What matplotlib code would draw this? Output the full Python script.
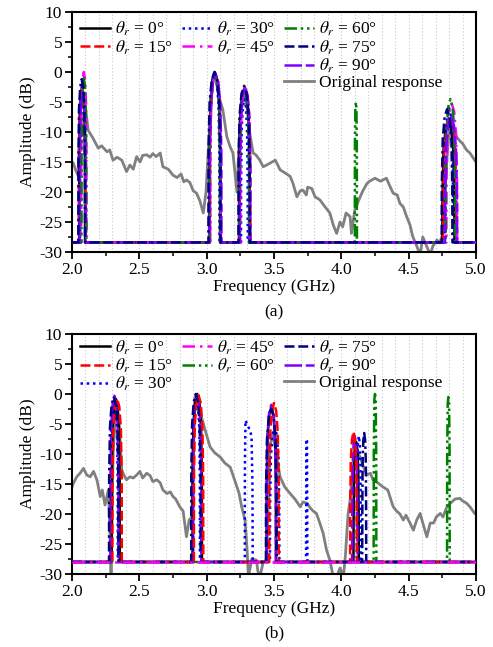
import numpy as np
import matplotlib
matplotlib.use("Agg")
import matplotlib.pyplot as plt
from matplotlib.lines import Line2D

plt.rcParams['font.family'] = ['Liberation Serif', 'DejaVu Serif']
plt.rcParams['mathtext.fontset'] = 'stix'
plt.rcParams['axes.unicode_minus'] = False

FA = -28.4
FB = -28.0

# ---------------- Panel (a) data ----------------
a_orig_f = [2.0, 2.01, 2.03, 2.045, 2.06, 2.075, 2.095, 2.12, 2.155, 2.195, 2.22, 2.26, 2.28, 2.305, 2.335, 2.37,
            2.405, 2.43, 2.455, 2.48, 2.505, 2.525, 2.555, 2.58, 2.60, 2.625, 2.655, 2.675, 2.715, 2.75, 2.78,
            2.81, 2.83, 2.85, 2.875, 2.90, 2.925, 2.95, 2.975, 2.995, 3.015, 3.04, 3.055, 3.07, 3.09, 3.12,
            3.15, 3.175, 3.195, 3.225, 3.24, 3.26, 3.275, 3.30, 3.32, 3.345, 3.365, 3.395, 3.42, 3.445, 3.47,
            3.51, 3.53, 3.545, 3.58, 3.62, 3.64, 3.67, 3.695, 3.715, 3.74, 3.75, 3.78, 3.805, 3.84, 3.88,
            3.915, 3.94, 3.965, 3.99, 4.01, 4.035, 4.065, 4.075, 4.10, 4.14, 4.16, 4.19, 4.21, 4.25, 4.29,
            4.335, 4.36, 4.385, 4.415, 4.435, 4.46, 4.485, 4.51, 4.53, 4.56, 4.585, 4.605, 4.635, 4.66, 4.68,
            4.71, 4.73, 4.755, 4.775, 4.79, 4.81, 4.83, 4.855, 4.88, 4.90, 4.93, 4.955, 4.99, 5.0]
a_orig_a = [-15.0, -15.2, -16.5, -17.2, -8.0, -3.0, -5.0, -9.7, -11.0, -12.7, -12.3, -13.3, -13.0, -14.7, -14.2, -14.7,
            -16.6, -15.5, -16.2, -14.1, -15.0, -13.9, -13.8, -14.2, -13.6, -14.1, -13.5, -15.8, -16.2, -17.2, -17.6,
            -17.0, -18.3, -18.0, -18.4, -19.8, -20.2, -21.5, -23.5, -20.0, -12.0, -3.0, -0.3, -1.5, -4.0, -6.3,
            -10.8, -12.5, -13.5, -20.0, -12.0, -4.0, -3.0, -6.0, -10.2, -13.5, -13.8, -14.7, -15.8, -15.5, -15.2,
            -14.7, -15.6, -16.3, -16.8, -17.4, -18.5, -20.8, -19.8, -19.7, -20.5, -19.2, -19.4, -20.8, -21.3, -22.5,
            -23.5, -25.5, -26.9, -25.0, -25.8, -23.5, -24.1, -26.9, -23.0, -20.8, -19.8, -18.6, -18.2, -17.7, -18.2,
            -17.7, -19.0, -20.2, -20.5, -21.9, -22.5, -24.1, -25.5, -27.4, -29.0, -30.5, -27.5, -29.1, -30.5, -29.0,
            -28.0, -28.5, -26.9, -18.0, -12.5, -8.5, -9.5, -10.8, -11.5, -11.9, -13.0, -13.5, -14.7, -15.0]

a0_f = [2.0, 2.053, 2.054, 2.057, 2.065, 2.075, 2.085, 2.093, 2.096, 2.097,
        3.020, 3.021, 3.028, 3.042, 3.060, 3.078, 3.092, 3.099, 3.100,
        3.240, 3.241, 3.248, 3.262, 3.280, 3.298, 3.312, 3.319, 3.320,
        4.750, 4.751, 4.759, 4.775, 4.795, 4.815, 4.831, 4.839, 4.840, 5.0]
a0_a = [FA, FA, -15.5, -7.5, -3.8, -2.5, -3.8, -7.5, -15.5, FA,
        FA, -13.0, -5.0, -1.3, 0.0, -1.3, -5.0, -13.0, FA,
        FA, -15.8, -7.8, -4.1, -2.8, -4.1, -7.8, -15.8, FA,
        FA, -21.0, -13.0, -9.3, -8.0, -9.3, -13.0, -21.0, FA, FA]

a15_f = [2.0, 2.050, 2.051, 2.055, 2.064, 2.075, 2.086, 2.095, 2.099, 2.100,
         3.025, 3.026, 3.033, 3.047, 3.065, 3.083, 3.097, 3.104, 3.105,
         3.245, 3.246, 3.253, 3.267, 3.285, 3.303, 3.317, 3.324, 3.325,
         4.755, 4.757, 4.765, 4.783, 4.805, 4.827, 4.845, 4.854, 4.855, 5.0]
a15_a = [FA, FA, -15.5, -7.5, -3.8, -2.5, -3.8, -7.5, -15.5, FA,
         FA, -13.3, -5.3, -1.6, -0.3, -1.6, -5.3, -13.3, FA,
         FA, -15.6, -7.6, -3.9, -2.6, -3.9, -7.6, -15.6, FA,
         FA, -20.5, -12.5, -8.8, -7.5, -8.8, -12.5, -20.5, FA, FA]

a30_f = [2.0, 2.060, 2.061, 2.064, 2.071, 2.080, 2.089, 2.096, 2.099, 2.100,
         3.025, 3.026, 3.032, 3.044, 3.060, 3.076, 3.088, 3.094, 3.095,
         3.255, 3.256, 3.260, 3.269, 3.280, 3.291, 3.300, 3.304, 3.305,
         4.770, 4.771, 4.776, 4.787, 4.800, 4.813, 4.824, 4.829, 4.830, 5.0]
a30_a = [FA, FA, -14.5, -6.5, -2.8, -1.5, -2.8, -6.5, -14.5, FA,
         FA, -13.5, -5.5, -1.8, -0.5, -1.8, -5.5, -13.5, FA,
         FA, -17.5, -9.5, -5.8, -4.5, -5.8, -9.5, -17.5, FA,
         FA, -19.0, -11.0, -7.3, -6.0, -7.3, -11.0, -19.0, FA, FA]

a45_f = [2.0, 2.068, 2.069, 2.072, 2.079, 2.088, 2.097, 2.104, 2.107, 2.108,
         3.025, 3.026, 3.033, 3.047, 3.065, 3.083, 3.097, 3.104, 3.105,
         3.250, 3.251, 3.257, 3.269, 3.285, 3.301, 3.313, 3.319, 3.320,
         4.780, 4.781, 4.788, 4.802, 4.820, 4.838, 4.852, 4.859, 4.860, 5.0]
a45_a = [FA, FA, -13.0, -5.0, -1.3, 0.0, -1.3, -5.0, -13.0, FA,
         FA, -13.2, -5.2, -1.5, -0.2, -1.5, -5.2, -13.2, FA,
         FA, -15.8, -7.8, -4.1, -2.8, -4.1, -7.8, -15.8, FA,
         FA, -18.3, -10.3, -6.6, -5.3, -6.6, -10.3, -18.3, FA, FA]

a60_f = [2.0, 2.070, 2.071, 2.074, 2.080, 2.088, 2.096, 2.102, 2.105, 2.106,
         3.020, 3.021, 3.028, 3.042, 3.060, 3.078, 3.092, 3.099, 3.100,
         3.245, 3.246, 3.252, 3.264, 3.280, 3.296, 3.308, 3.314, 3.315,
         4.100, 4.100, 4.101, 4.104, 4.108, 4.112, 4.115, 4.116, 4.116,
         4.775, 4.776, 4.782, 4.794, 4.810, 4.826, 4.838, 4.844, 4.845, 5.0]
a60_a = [FA, FA, -14.0, -6.0, -2.3, -1.0, -2.3, -6.0, -14.0, FA,
         FA, -13.3, -5.3, -1.6, -0.3, -1.6, -5.3, -13.3, FA,
         FA, -16.0, -8.0, -4.3, -3.0, -4.3, -8.0, -16.0, FA,
         FA, -27.2, -12.0, -6.0, -5.0, -6.0, -12.0, -27.2, FA,
         FA, -17.5, -9.5, -5.8, -4.5, -5.8, -9.5, -17.5, FA, FA]

a75_f = [2.0, 2.047, 2.048, 2.052, 2.061, 2.072, 2.083, 2.092, 2.096, 2.097,
         3.013, 3.014, 3.022, 3.038, 3.058, 3.078, 3.094, 3.102, 3.103,
         3.236, 3.237, 3.244, 3.259, 3.278, 3.297, 3.312, 3.319, 3.320,
         4.745, 4.746, 4.753, 4.767, 4.785, 4.803, 4.817, 4.824, 4.825, 5.0]
a75_a = [FA, FA, -14.2, -6.2, -2.5, -1.2, -2.5, -6.2, -14.2, FA,
         FA, -13.0, -5.0, -1.3, 0.0, -1.3, -5.0, -13.0, FA,
         FA, -15.3, -7.3, -3.6, -2.3, -3.6, -7.3, -15.3, FA,
         FA, -19.2, -11.2, -7.5, -6.2, -7.5, -11.2, -19.2, FA, FA]

a90_f = [2.0, 2.056, 2.057, 2.060, 2.068, 2.078, 2.088, 2.096, 2.099, 2.100,
         3.020, 3.021, 3.029, 3.045, 3.065, 3.085, 3.101, 3.109, 3.110,
         3.245, 3.246, 3.253, 3.267, 3.285, 3.303, 3.317, 3.324, 3.325,
         4.770, 4.771, 4.779, 4.795, 4.815, 4.835, 4.851, 4.859, 4.860, 5.0]
a90_a = [FA, FA, -16.5, -8.5, -4.8, -3.5, -4.8, -8.5, -16.5, FA,
         FA, -13.3, -5.3, -1.6, -0.3, -1.6, -5.3, -13.3, FA,
         FA, -15.5, -7.5, -3.8, -2.5, -3.8, -7.5, -15.5, FA,
         FA, -20.5, -12.5, -8.8, -7.5, -8.8, -12.5, -20.5, FA, FA]

# ---------------- Panel (b) data ----------------
b_orig_f = [2.0, 2.01, 2.035, 2.06, 2.085, 2.11, 2.135, 2.16, 2.185, 2.21, 2.225, 2.245, 2.27, 2.28, 2.29,
            2.305, 2.33, 2.35, 2.37, 2.385, 2.405, 2.43, 2.455, 2.48, 2.505, 2.525, 2.555, 2.58, 2.60, 2.63,
            2.655, 2.675, 2.705, 2.73, 2.75, 2.77, 2.80, 2.825, 2.85, 2.87, 2.89, 2.90, 2.915, 2.935, 2.975,
            2.995, 3.025, 3.06, 3.10, 3.135, 3.175, 3.195, 3.225, 3.24, 3.26, 3.285, 3.30, 3.31, 3.335, 3.37,
            3.38, 3.395, 3.42, 3.445, 3.455, 3.47, 3.49, 3.51, 3.545, 3.58, 3.62, 3.655, 3.695, 3.715, 3.745,
            3.77, 3.79, 3.815, 3.84, 3.865, 3.89, 3.915, 3.94, 3.965, 3.99, 4.015, 4.03, 4.05, 4.065, 4.085,
            4.10, 4.14, 4.165, 4.19, 4.215, 4.235, 4.27, 4.31, 4.345, 4.385, 4.41, 4.435, 4.46, 4.48, 4.51,
            4.535, 4.56, 4.585, 4.605, 4.635, 4.66, 4.685, 4.705, 4.735, 4.755, 4.78, 4.81, 4.845, 4.88, 4.90,
            4.93, 4.955, 4.99, 5.0]
b_orig_a = [-15.5, -14.9, -13.8, -13.2, -12.4, -13.5, -13.8, -12.9, -14.3, -17.1, -16.0, -18.5, -16.0, -22.0, -30.5,
            -10.0, -1.0, -5.0, -12.7, -13.5, -14.3, -13.8, -14.0, -13.5, -12.9, -14.0, -13.2, -13.6, -14.6, -14.3,
            -14.8, -16.0, -16.6, -16.3, -17.1, -17.5, -18.8, -19.5, -23.8, -21.0, -20.5, -8.0, -0.2, -2.0, -4.9,
            -6.5, -8.8, -9.8, -10.5, -11.5, -12.2, -13.5, -15.5, -16.5, -18.8, -21.0, -26.0, -30.5, -27.5, -27.7,
            -29.5, -30.5, -28.0, -27.7, -20.0, -8.8, -6.5, -9.0, -13.8, -15.5, -16.6, -17.5, -18.8, -18.0, -18.2,
            -19.0, -19.5, -19.9, -21.5, -23.2, -26.0, -27.7, -30.5, -30.5, -29.0, -30.5, -27.0, -20.0, -17.7, -12.0,
            -9.0, -10.5, -12.2, -13.5, -13.2, -14.3, -14.8, -15.5, -16.0, -18.8, -19.5, -20.0, -21.0, -20.2, -21.5,
            -22.7, -21.0, -19.9, -21.5, -23.8, -21.5, -21.5, -20.5, -19.9, -20.5, -19.0, -18.2, -17.5, -17.4, -17.8,
            -18.2, -18.8, -19.9, -20.0]

b0_f = [2.0, 2.295, 2.296, 2.301, 2.312, 2.325, 2.338, 2.349, 2.354, 2.355,
        2.895, 2.896, 2.902, 2.914, 2.930, 2.946, 2.958, 2.964, 2.965,
        3.445, 3.446, 3.452, 3.464, 3.480, 3.496, 3.508, 3.514, 3.515,
        4.090, 4.091, 4.094, 4.101, 4.110, 4.119, 4.126, 4.129, 4.130, 5.0]
b0_a = [FB, FB, -13.8, -5.8, -2.1, -0.8, -2.1, -5.8, -13.8, FB,
        FB, -13.0, -5.0, -1.3, 0.0, -1.3, -5.0, -13.0, FB,
        FB, -15.2, -7.2, -3.5, -2.2, -3.5, -7.2, -15.2, FB,
        FB, -21.0, -13.0, -9.3, -8.0, -9.3, -13.0, -21.0, FB, FB]

b15_f = [2.0, 2.300, 2.301, 2.307, 2.319, 2.335, 2.351, 2.363, 2.369, 2.370,
         2.905, 2.906, 2.912, 2.924, 2.940, 2.956, 2.968, 2.974, 2.975,
         3.465, 3.466, 3.472, 3.484, 3.500, 3.516, 3.528, 3.534, 3.535,
         4.065, 4.066, 4.070, 4.079, 4.090, 4.101, 4.110, 4.114, 4.115, 5.0]
b15_a = [FB, FB, -13.8, -5.8, -2.1, -0.8, -2.1, -5.8, -13.8, FB,
         FB, -13.2, -5.2, -1.5, -0.2, -1.5, -5.2, -13.2, FB,
         FB, -14.5, -6.5, -2.8, -1.5, -2.8, -6.5, -14.5, FB,
         FB, -19.3, -11.3, -7.6, -6.3, -7.6, -11.3, -19.3, FB, FB]

b30_f = [2.0, 2.290, 2.291, 2.295, 2.304, 2.315, 2.326, 2.335, 2.339, 2.340,
         2.900, 2.901, 2.905, 2.914, 2.925, 2.936, 2.945, 2.949, 2.950,
         3.283, 3.284, 3.288, 3.300, 3.320, 3.333, 3.340, 3.342,
         3.470, 3.471, 3.477, 3.489, 3.505, 3.521, 3.533, 3.539, 3.540,
         3.738, 3.740, 3.745, 3.748,
         4.115, 4.116, 4.118, 4.123, 4.130, 4.137, 4.142, 4.144, 4.145, 5.0]
b30_a = [FB, FB, -14.0, -6.0, -2.3, -1.0, -2.3, -6.0, -14.0, FB,
         FB, -13.5, -5.5, -1.8, -0.5, -1.8, -5.5, -13.5, FB,
         FB, -12.0, -4.4, -5.0, -6.0, -7.0, -15.0, FB,
         FB, -18.5, -10.5, -6.8, -5.5, -6.8, -10.5, -18.5, FB,
         FB, -7.5, -7.8, FB,
         FB, -20.0, -12.0, -8.3, -7.0, -8.3, -12.0, -20.0, FB, FB]

b45_f = [2.0, 5.0]
b45_a = [FB, FB]

b60_f = [2.0, 4.240, 4.241, 4.245, 4.250, 4.255, 4.259, 4.260,
         4.785, 4.786, 4.790, 4.795, 4.800, 4.804, 4.805, 5.0]
b60_a = [FB, FB, -10.0, -1.0, 0.0, -1.0, -10.0, FB,
         FB, -10.0, -1.5, -0.5, -1.5, -10.0, FB, FB]

b75_f = [2.0, 2.275, 2.276, 2.282, 2.294, 2.310, 2.326, 2.338, 2.344, 2.345,
         2.885, 2.886, 2.892, 2.904, 2.920, 2.936, 2.948, 2.954, 2.955,
         3.440, 3.441, 3.448, 3.462, 3.480, 3.498, 3.512, 3.519, 3.520,
         4.155, 4.156, 4.158, 4.163, 4.170, 4.177, 4.182, 4.184, 4.185, 5.0]
b75_a = [FB, FB, -13.5, -5.5, -1.8, -0.5, -1.8, -5.5, -13.5, FB,
         FB, -13.0, -5.0, -1.3, 0.0, -1.3, -5.0, -13.0, FB,
         FB, -15.5, -7.5, -3.8, -2.5, -3.8, -7.5, -15.5, FB,
         FB, -19.5, -11.5, -7.8, -6.5, -7.8, -11.5, -19.5, FB, FB]

b90_f = [2.0, 2.285, 2.286, 2.291, 2.302, 2.315, 2.328, 2.339, 2.344, 2.345,
         2.900, 2.901, 2.906, 2.917, 2.930, 2.943, 2.954, 2.959, 2.960,
         3.445, 3.446, 3.452, 3.464, 3.480, 3.496, 3.508, 3.514, 3.515,
         4.080, 4.081, 4.084, 4.091, 4.100, 4.109, 4.116, 4.119, 4.120, 5.0]
b90_a = [FB, FB, -13.3, -5.3, -1.6, -0.3, -1.6, -5.3, -13.3, FB,
         FB, -13.2, -5.2, -1.5, -0.2, -1.5, -5.2, -13.2, FB,
         FB, -14.8, -6.8, -3.1, -1.8, -3.1, -6.8, -14.8, FB,
         FB, -20.0, -12.0, -8.3, -7.0, -8.3, -12.0, -20.0, FB, FB]

labels = [r'$\theta_r$ = 0°', r'$\theta_r$ = 15°', r'$\theta_r$ = 30°', r'$\theta_r$ = 45°',
          r'$\theta_r$ = 60°', r'$\theta_r$ = 75°', r'$\theta_r$ = 90°', 'Original response']

styles = [
    dict(color='black', ls='-'),
    dict(color='#ff0000', ls=(0, (4, 1.5))),
    dict(color='#0000ff', ls=(0, (1, 1.5))),
    dict(color='#ff00ff', ls=(0, (5, 2, 1, 2))),
    dict(color='#008000', ls=(0, (5, 1.5, 1, 1.5, 1, 1.5))),
    dict(color='#000080', ls=(0, (4, 1.5, 4, 1.5, 1, 1.5))),
    dict(color='#8000ff', ls=(0, (7, 1.5, 3.5, 1.5))),
]
gray = '#808080'

a_series = [(a0_f, a0_a), (a15_f, a15_a), (a30_f, a30_a), (a45_f, a45_a),
            (a60_f, a60_a), (a75_f, a75_a), (a90_f, a90_a)]
b_series = [(b0_f, b0_a), (b15_f, b15_a), (b30_f, b30_a), (b45_f, b45_a),
            (b60_f, b60_a), (b75_f, b75_a), (b90_f, b90_a)]

fig = plt.figure(figsize=(4.93, 6.47), dpi=100)
W, H = 493.0, 647.0
axA = fig.add_axes([72 / W, (H - 252) / H, 404 / W, 240 / H])
axB = fig.add_axes([72 / W, (H - 574) / H, 404 / W, 240 / H])


def style_axes(ax):
    ax.set_xlim(2.0, 5.0)
    ax.set_ylim(-30, 10)
    ax.set_xticks(np.arange(2.0, 5.01, 0.5))
    ax.set_xticklabels(['%.1f' % v for v in np.arange(2.0, 5.01, 0.5)])
    ax.set_xticks(np.arange(2.25, 5.0, 0.5), minor=True)
    ax.set_yticks(np.arange(-30, 10.1, 5))
    ax.set_yticks(np.arange(-27.5, 10, 5), minor=True)
    ax.tick_params(which='major', direction='out', length=5, width=1.3, labelsize=12.5, pad=2)
    ax.tick_params(which='minor', direction='out', length=3, width=1.1)
    for s in ax.spines.values():
        s.set_linewidth(1.5)
    ax.vlines(np.arange(2.1, 4.95, 0.1), 0, 1, transform=ax.get_xaxis_transform(),
              colors='#c8c8c8', linewidth=0.8, linestyles=[(0, (1, 2))], zorder=0)
    ax.set_ylabel('Amplitude (dB)', fontsize=12.5, labelpad=2)
    ax.set_xlabel('Frequency (GHz)', fontsize=12.5, labelpad=1)


def draw(ax, series, of, oa, order):
    ho = ax.plot(of, oa, color=gray, lw=2.0, zorder=2)[0]
    hs = [None] * 7
    for i in order:
        f, a = series[i]
        hs[i] = ax.plot(f, a, lw=1.8, zorder=3, **styles[i])[0]
    return hs, ho


style_axes(axA)
style_axes(axB)

hsA, hoA = draw(axA, a_series, a_orig_f, a_orig_a, [0, 1, 2, 3, 4, 6, 5])
hsB, hoB = draw(axB, b_series, b_orig_f, b_orig_a, [0, 2, 4, 6, 1, 5, 3])

blank = Line2D([], [], lw=0)
legA_h = [hsA[0], hsA[1], blank, blank, hsA[2], hsA[3], blank, blank, hsA[4], hsA[5], hsA[6], hoA]
legA_l = [labels[0], labels[1], '', '', labels[2], labels[3], '', '', labels[4], labels[5], labels[6], labels[7]]
legB_h = [hsB[0], hsB[1], hsB[2], hsB[3], hsB[4], blank, hsB[5], hsB[6], hoB]
legB_l = [labels[0], labels[1], labels[2], labels[3], labels[4], '', labels[5], labels[6], labels[7]]

for ax, h, l, yoff in [(axA, legA_h, legA_l, 1.0), (axB, legB_h, legB_l, 1.015)]:
    ax.legend(h, l, ncol=3, loc='upper left', bbox_to_anchor=(0.0, yoff), frameon=False,
              fontsize=12.5, handlelength=1.75, handletextpad=0.25, columnspacing=0.55,
              labelspacing=0.0, borderpad=0.25, borderaxespad=0.2)

fig.text(274 / W, 1 - 312 / H, '(a)', ha='center', va='center', fontsize=12.5)
fig.text(274 / W, 1 - 633 / H, '(b)', ha='center', va='center', fontsize=12.5)

fig.savefig('out.png', dpi=100)
